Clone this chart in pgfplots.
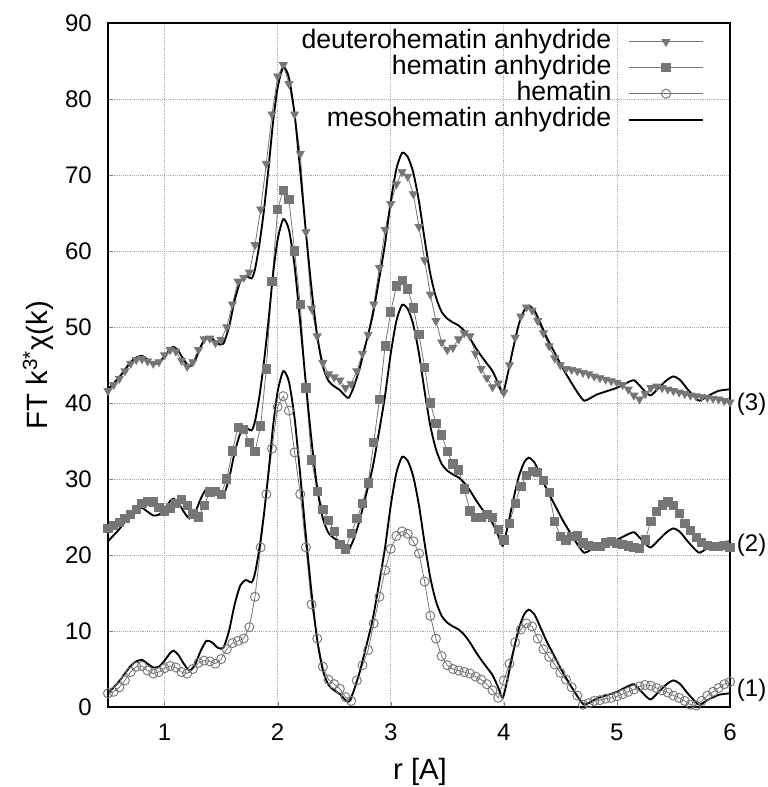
\documentclass[border=0pt]{standalone}
\usepackage{fontspec}
\setmainfont{Liberation Sans}
\usepackage{pgfplots}
\usepackage{pgfplotstable}
\pgfplotsset{compat=1.18}
\definecolor{mgray}{RGB}{118,118,118}

\pgfplotstableread{
x y
0.50 1.8
0.55 2.6
0.60 3.4
0.65 4.4
0.70 5.4
0.75 6.0
0.80 6.2
0.85 5.7
0.90 5.2
0.95 5.3
1.00 6.1
1.05 7.1
1.08 7.4
1.12 6.9
1.17 5.7
1.22 4.8
1.27 5.6
1.32 7.4
1.37 8.7
1.42 8.5
1.47 7.8
1.52 7.8
1.57 10.0
1.62 13.5
1.67 16.0
1.72 16.7
1.77 16.4
1.80 17.6
1.84 21.0
1.88 25.5
1.92 31.0
1.96 37.0
2.00 41.5
2.05 44.2
2.10 42.8
2.15 38.0
2.20 30.5
2.25 22.5
2.30 15.0
2.35 8.8
2.40 4.8
2.45 2.9
2.50 2.2
2.55 1.7
2.60 0.9
2.63 0.7
2.67 2.0
2.72 4.3
2.78 7.8
2.84 11.5
2.90 16.5
2.95 21.0
3.00 26.5
3.05 30.8
3.10 32.9
3.15 32.4
3.20 30.3
3.25 26.5
3.30 21.5
3.35 17.0
3.40 13.9
3.45 12.0
3.50 11.1
3.55 10.6
3.60 10.2
3.65 9.5
3.70 8.5
3.75 7.3
3.80 6.2
3.85 5.2
3.90 4.2
3.95 2.6
3.99 1.2
4.03 3.5
4.08 7.0
4.13 10.2
4.18 12.2
4.22 12.8
4.27 12.2
4.32 10.6
4.38 8.6
4.45 6.6
4.52 4.6
4.60 2.6
4.66 1.2
4.71 0.3
4.76 0.6
4.82 1.1
4.90 1.5
5.00 2.0
5.08 2.6
5.15 3.0
5.20 2.3
5.25 1.5
5.30 1.0
5.37 2.0
5.44 3.0
5.50 3.5
5.56 3.0
5.62 1.9
5.68 0.9
5.73 0.3
5.80 0.9
5.90 1.6
6.00 1.8
}\meso

\pgfplotstableread{
x y
0.50 1.8
0.55 2.0
0.60 2.6
0.65 3.5
0.70 4.6
0.75 5.3
0.80 5.4
0.85 4.8
0.90 4.4
0.95 4.6
1.00 5.1
1.05 5.4
1.10 5.2
1.15 4.6
1.20 4.4
1.25 5.0
1.30 5.8
1.35 6.1
1.40 6.0
1.45 5.7
1.50 6.3
1.55 7.6
1.60 8.4
1.65 8.7
1.70 9.0
1.75 10.5
1.80 14.5
1.85 21.0
1.90 28.0
1.95 34.0
2.00 39.5
2.05 40.9
2.10 39.0
2.15 33.5
2.20 28.0
2.25 21.0
2.30 13.5
2.35 9.0
2.40 5.3
2.45 3.6
2.50 3.0
2.55 2.4
2.60 1.3
2.65 0.8
2.70 3.5
2.75 5.5
2.80 7.5
2.85 11.0
2.90 14.5
2.95 18.0
3.00 20.8
3.05 22.5
3.10 23.1
3.15 22.8
3.20 21.8
3.25 20.2
3.30 16.5
3.35 12.0
3.40 9.0
3.45 6.7
3.50 5.5
3.55 5.0
3.60 4.8
3.65 4.6
3.70 4.4
3.75 4.0
3.80 3.6
3.85 3.0
3.90 2.2
3.95 1.2
4.00 3.5
4.05 5.7
4.10 8.5
4.15 10.2
4.20 11.0
4.25 10.6
4.30 9.0
4.35 7.6
4.40 6.6
4.45 5.6
4.50 4.5
4.55 3.6
4.60 2.6
4.65 1.5
4.70 0.3
4.75 0.5
4.80 0.8
4.85 0.9
4.90 1.1
4.95 1.2
5.00 1.4
5.05 1.7
5.10 2.0
5.15 2.3
5.20 2.7
5.25 2.9
5.30 2.8
5.35 2.5
5.40 2.2
5.45 1.9
5.50 1.5
5.55 1.2
5.60 0.8
5.65 0.3
5.70 0.2
5.75 0.8
5.80 1.5
5.85 2.0
5.90 2.5
5.95 3.0
6.00 3.3
}\hematin

\pgfplotstableread{
x y
0.50 23.5
0.55 23.9
0.60 24.3
0.65 24.8
0.70 25.3
0.75 26.0
0.80 26.8
0.85 27.1
0.90 27.0
0.95 26.3
1.00 25.8
1.05 26.2
1.10 26.8
1.15 27.3
1.20 26.5
1.25 25.4
1.30 25.0
1.35 26.5
1.40 28.3
1.45 28.4
1.50 28.0
1.55 30.0
1.60 33.7
1.65 36.8
1.70 36.5
1.75 34.8
1.80 33.6
1.85 37.0
1.90 44.5
1.95 56.0
2.00 65.5
2.05 68.0
2.10 66.8
2.15 60.0
2.20 53.0
2.25 42.0
2.30 32.5
2.35 28.4
2.40 26.0
2.45 24.6
2.50 23.1
2.55 21.4
2.60 20.8
2.65 22.8
2.70 24.8
2.75 26.8
2.80 29.5
2.85 34.8
2.90 40.5
2.95 47.5
3.00 52.0
3.05 55.4
3.10 56.1
3.15 55.0
3.20 52.5
3.25 49.0
3.30 44.7
3.35 40.0
3.40 37.3
3.45 35.8
3.50 33.6
3.55 32.0
3.60 31.2
3.65 28.7
3.70 25.8
3.75 24.9
3.80 24.9
3.85 25.3
3.90 24.9
3.95 23.4
4.00 22.0
4.05 24.2
4.10 26.8
4.15 29.0
4.20 30.5
4.25 31.0
4.30 30.9
4.35 29.8
4.40 28.2
4.45 24.4
4.50 22.4
4.55 22.0
4.60 22.4
4.65 22.5
4.70 21.6
4.75 21.3
4.80 21.1
4.85 21.1
4.90 21.6
4.95 21.8
5.00 21.5
5.05 21.4
5.10 21.2
5.15 21.0
5.20 20.9
5.25 22.0
5.30 24.4
5.35 25.7
5.40 26.6
5.45 27.0
5.50 26.5
5.55 25.5
5.60 24.2
5.65 23.2
5.70 22.3
5.75 21.7
5.80 21.3
5.85 21.1
5.90 21.1
5.95 21.3
6.00 21.0
}\hemanh

\pgfplotstableread{
x y
0.50 41.6
0.55 42.4
0.60 43.2
0.65 44.2
0.70 45.2
0.75 45.7
0.80 45.8
0.85 45.5
0.90 45.2
0.95 45.4
1.00 46.3
1.05 47.0
1.10 46.8
1.15 45.6
1.20 44.8
1.25 45.4
1.30 47.0
1.35 48.4
1.40 48.5
1.45 47.9
1.50 48.3
1.55 50.0
1.60 53.0
1.65 56.0
1.70 56.5
1.75 57.2
1.80 60.8
1.85 65.5
1.90 71.5
1.95 78.0
2.00 83.0
2.05 84.5
2.10 82.0
2.15 78.0
2.20 72.8
2.25 62.5
2.30 52.4
2.35 48.8
2.40 45.3
2.45 43.8
2.50 43.4
2.55 43.0
2.60 42.0
2.65 42.5
2.70 44.2
2.75 46.5
2.80 49.0
2.85 53.0
2.90 57.8
2.95 62.8
3.00 66.2
3.05 68.8
3.10 70.4
3.15 69.8
3.20 67.5
3.25 63.2
3.30 58.8
3.35 54.3
3.40 50.8
3.45 48.0
3.50 47.0
3.55 47.3
3.60 48.4
3.65 49.2
3.70 48.8
3.75 46.5
3.80 44.5
3.85 43.3
3.90 42.1
3.95 42.6
4.00 41.4
4.05 45.0
4.10 48.6
4.15 51.4
4.20 52.6
4.25 52.2
4.30 50.8
4.35 49.2
4.40 47.5
4.45 45.9
4.50 45.0
4.55 44.5
4.60 44.4
4.65 44.2
4.70 44.0
4.75 43.8
4.80 43.5
4.85 43.3
4.90 43.1
4.95 42.9
5.00 42.7
5.05 42.4
5.10 41.8
5.15 41.0
5.20 40.5
5.25 41.2
5.30 42.0
5.35 42.2
5.40 42.0
5.45 41.8
5.50 41.6
5.55 41.4
5.60 41.2
5.65 41.0
5.70 40.9
5.75 40.8
5.80 40.7
5.85 40.6
5.90 40.5
5.95 40.3
6.00 40.1
}\deutero

\begin{document}
\begin{tikzpicture}
\useasboundingbox (-81pt,-60pt) rectangle (494.25pt,530.25pt);
\begin{axis}[
  at={(0pt,0pt)}, anchor=south west,
  scale only axis,
  width=466.5pt, height=513pt,
  xmin=0.5, xmax=6, ymin=0, ymax=90,
  xtick={1,2,3,4,5,6},
  ytick={0,10,20,30,40,50,60,70,80,90},
  tick align=inside,
  major tick length=4pt,
  xtick pos=bottom, ytick pos=left,
  axis line style={line width=1.5pt},
  grid=major,
  major grid style={densely dotted, gray!65, line width=0.5pt},
  /pgf/number format/assume math mode=true,
  tick label style={font=\fontsize{18}{20}\selectfont, inner sep=0pt},
  xticklabel style={anchor=north, yshift=-12.5pt},
  yticklabel style={anchor=east, xshift=-12pt},
  xlabel={r [A]},
  ylabel={FT k\textsuperscript{3*}χ(k)},
  label style={font=\fontsize{22}{24}\selectfont},
  xlabel style={at={(axis description cs:0.5016,-0.095)}, anchor=center},
  ylabel style={at={(axis description cs:-0.1125,0.5)}, anchor=center},
  clip=false,
  legend plot pos=right,
  legend cell align=right,
  legend style={at={(rel axis cs:0.958,0.992)}, anchor=north east, draw=none, fill=none,
    font=\fontsize{20}{22}\selectfont, row sep=0pt, column sep=12pt, inner sep=0pt,
    nodes={inner sep=0.75pt, text height=14pt, text depth=4pt}},
  legend image code/.code={\draw[mark repeat=2,mark phase=2,#1] plot coordinates {(0pt,0pt) (27.5pt,0pt) (55pt,0pt)};},
]
\addplot[mgray, line width=0.6pt, mark=triangle*, mark size=3.4pt, mark options={rotate=180, fill=mgray, draw=mgray}] table[x=x,y=y] {\deutero};
\addlegendentry{deuterohematin anhydride}
\addplot[mgray, line width=0.6pt, mark=square*, mark size=3.1pt, mark options={fill=mgray, draw=mgray}] table[x=x,y=y] {\hemanh};
\addlegendentry{hematin anhydride}
\addplot[mgray, line width=0.6pt, mark=o, mark size=3.4pt, mark options={draw=mgray, line width=0.7pt}] table[x=x,y=y] {\hematin};
\addlegendentry{hematin}
\addplot[black, line width=1.4pt, smooth, tension=0.4] table[x=x,y expr=\thisrow{y}+40] {\meso};
\addlegendentry{mesohematin anhydride}
\addplot[black, line width=1.4pt, smooth, tension=0.4, forget plot] table[x=x,y expr=\thisrow{y}+20] {\meso};
\addplot[black, line width=1.4pt, smooth, tension=0.4, forget plot] table[x=x,y=y] {\meso};
\node[anchor=west, inner sep=0pt, font=\fontsize{18}{20}\selectfont] at ([xshift=5pt]axis cs:6,39.8) {(3)};
\node[anchor=west, inner sep=0pt, font=\fontsize{18}{20}\selectfont] at ([xshift=5pt]axis cs:6,21.3) {(2)};
\node[anchor=west, inner sep=0pt, font=\fontsize{18}{20}\selectfont] at ([xshift=5pt]axis cs:6,2.2) {(1)};
\end{axis}
\end{tikzpicture}
\end{document}
